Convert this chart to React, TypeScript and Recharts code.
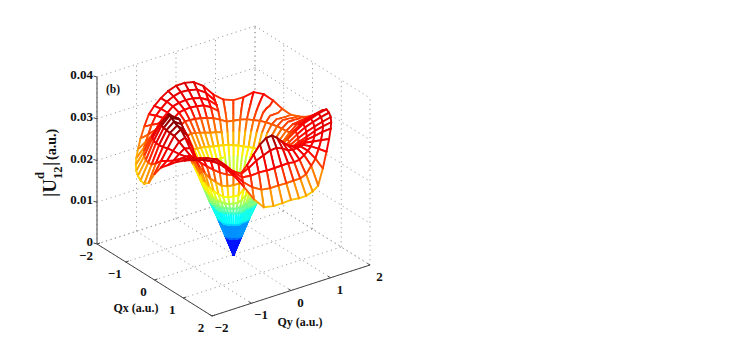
import React from "react";
import { ScatterChart, Scatter, XAxis, YAxis } from "recharts";

const qxTicks = [-2, -1, 0, 1, 2];
const qyTicks = [-2, -1, 0, 1, 2];
const zTicks = [0, 0.01, 0.02, 0.03, 0.04];
const zTickLabels = ["0", "0.01", "0.02", "0.03", "0.04"];
const qLabels = ["\u22122", "\u22121", "0", "1", "2"];

// radii of the mesh rings, and one row per angle (0, 6, 12 ... 354 degrees)
const ringRadii = [1 / 6, 2 / 6, 3 / 6, 4 / 6, 5 / 6, 1, 7 / 6, 8 / 6, 9 / 6, 10 / 6, 11 / 6, 2];
const zUnit = 0.0001;
const surfaceZ = [
  [46, 92, 133, 165, 205, 260, 320, 342, 320, 285, 250, 217],
  [46, 92, 133, 166, 205, 255, 310, 332, 313, 285, 250, 214],
  [46, 92, 133, 167, 205, 250, 296, 318, 303, 281, 248, 212],
  [46, 92, 133, 168, 206, 247, 285, 306, 298, 280, 250, 214],
  [46, 92, 133, 169, 207, 246, 274, 296, 295, 283, 262, 219],
  [46, 92, 133, 170, 208, 245, 265, 288, 292, 285, 270, 250],
  [46, 92, 133, 171, 209, 242, 263, 283, 288, 287, 284, 280],
  [46, 92, 133, 172, 210, 240, 261, 278, 285, 290, 295, 300],
  [46, 92, 133, 172, 210, 240, 258, 274, 284, 294, 305, 314],
  [46, 92, 133, 172, 210, 240, 255, 270, 283, 297, 308, 318],
  [46, 92, 133, 172, 210, 242, 256, 272, 286, 298, 309, 319],
  [46, 92, 133, 172, 210, 244, 257, 274, 289, 300, 310, 319],
  [46, 92, 133, 173, 210, 245, 258, 274, 289, 299, 309, 316],
  [46, 92, 133, 172, 205, 236, 250, 266, 280, 290, 298, 304],
  [46, 92, 133, 170, 200, 228, 240, 258, 273, 279, 282, 285],
  [46, 92, 133, 170, 200, 226, 238, 255, 266, 268, 270, 272],
  [46, 92, 133, 168, 197, 222, 238, 255, 265, 264, 262, 260],
  [46, 92, 133, 165, 193, 214, 238, 255, 263, 260, 256, 253],
  [46, 92, 133, 162, 190, 208, 240, 255, 260, 256, 252, 250],
  [46, 92, 134, 162, 190, 207, 238, 256, 264, 260, 256, 258],
  [46, 92, 136, 162, 190, 207, 236, 256, 268, 270, 268, 273],
  [46, 92, 137, 163, 190, 207, 235, 255, 266, 274, 280, 284],
  [46, 92, 138, 163, 190, 207, 235, 255, 265, 272, 280, 286],
  [46, 92, 137, 163, 191, 208, 233, 253, 262, 268, 271, 272],
  [46, 92, 136, 163, 191, 209, 231, 250, 258, 262, 263, 264],
  [46, 92, 135, 163, 192, 210, 230, 248, 256, 260, 263, 266],
  [46, 92, 135, 162, 190, 210, 232, 254, 266, 272, 274, 280],
  [46, 92, 135, 160, 188, 210, 234, 259, 277, 286, 295, 303],
  [46, 92, 135, 160, 186, 210, 235, 262, 284, 294, 306, 316],
  [46, 92, 135, 160, 187, 212, 238, 265, 286, 297, 309, 319],
  [46, 92, 135, 161, 189, 214, 241, 267, 287, 298, 310, 318],
  [46, 92, 135, 161, 190, 216, 245, 269, 287, 297, 306, 312],
  [46, 92, 135, 161, 191, 218, 248, 271, 286, 295, 300, 303],
  [46, 92, 135, 161, 191, 220, 248, 267, 280, 287, 291, 293],
  [46, 92, 135, 162, 192, 222, 252, 276, 280, 282, 283, 282],
  [46, 92, 135, 165, 195, 226, 258, 286, 284, 277, 270, 262],
  [46, 92, 135, 170, 200, 232, 266, 297, 287, 271, 256, 244],
  [46, 92, 135, 175, 207, 240, 276, 306, 292, 270, 249, 228],
  [46, 92, 134, 176, 212, 252, 295, 320, 302, 275, 246, 218],
  [46, 92, 134, 177, 218, 265, 312, 333, 312, 282, 245, 213],
  [46, 92, 133, 178, 224, 278, 328, 342, 320, 287, 245, 210],
  [46, 92, 133, 180, 229, 288, 338, 347, 325, 290, 245, 209],
  [46, 92, 133, 179, 230, 291, 342, 348, 327, 293, 249, 209],
  [46, 92, 133, 177, 227, 286, 336, 346, 329, 297, 254, 211],
  [46, 92, 133, 173, 221, 278, 328, 343, 330, 301, 266, 224],
  [46, 92, 133, 170, 215, 270, 320, 340, 330, 305, 280, 254],
  [46, 92, 133, 165, 205, 255, 302, 326, 322, 306, 288, 278],
  [46, 90, 128, 155, 190, 235, 280, 306, 312, 305, 296, 292],
  [46, 88, 125, 150, 180, 218, 258, 286, 300, 305, 307, 306],
  [46, 88, 125, 148, 175, 208, 248, 280, 297, 306, 312, 316],
  [46, 88, 125, 146, 170, 200, 238, 275, 298, 310, 317, 322],
  [46, 88, 125, 145, 168, 195, 232, 270, 298, 313, 322, 327],
  [46, 88, 125, 145, 165, 190, 225, 265, 296, 314, 323, 328],
  [46, 88, 125, 145, 165, 190, 225, 262, 288, 302, 310, 316],
  [46, 88, 125, 145, 166, 192, 228, 260, 278, 285, 290, 295],
  [46, 88, 125, 146, 168, 195, 232, 262, 272, 272, 270, 268],
  [46, 88, 125, 148, 175, 208, 250, 283, 285, 275, 256, 236],
  [46, 88, 126, 152, 185, 225, 270, 307, 300, 280, 248, 214],
  [46, 90, 128, 157, 195, 238, 289, 328, 310, 282, 248, 213],
  [46, 92, 133, 164, 202, 253, 310, 340, 318, 284, 250, 215],
];

// the back wall between these angle rows only shows a few of the rings
const sparseAngleRows = [15, 26];
const sparseRingsKept = [1, 2, 3, 4, 6, 8, 12];

// view of the 3D box on the page, the chart's x/y axes then place it
const project = (qx: number, qy: number, z: number) => ({
  u: 233.5 + qx * 28.75 + qy * 39.5,
  v: 254.5 + qx * 18 - qy * 12.75 - z * 4175,
});
const depthOf = (qx: number, qy: number, z: number) => 35.6 * qx - 25.2 * qy + 2113 * z;

const nAngles = surfaceZ.length;
const nRings = ringRadii.length;

const surfacePoints = [{ ...project(0, 0, 0), qx: 0, qy: 0, z: 0 }];
surfaceZ.forEach((row, j) => {
  const angle = (j * 2 * Math.PI) / nAngles;
  row.forEach((value, k) => {
    const qx = ringRadii[k] * Math.cos(angle);
    const qy = ringRadii[k] * Math.sin(angle);
    const z = value * zUnit;
    surfacePoints.push({ ...project(qx, qy, z), qx, qy, z });
  });
});

const pointIndex = (j: number, k: number) =>
  k === 0 ? 0 : 1 + ((j + nAngles) % nAngles) * nRings + (k - 1);

// mesh cells, far ones first so that near ones cover them
const cells: number[][] = [];
for (let j = 0; j < nAngles; j++) {
  for (let k = 0; k < nRings; k++) {
    cells.push(
      k === 0
        ? [pointIndex(j, 0), pointIndex(j, 1), pointIndex(j + 1, 1)]
        : [pointIndex(j, k), pointIndex(j, k + 1), pointIndex(j + 1, k + 1), pointIndex(j + 1, k)]
    );
  }
}
const cellDepth = (cell: number[]) =>
  cell.reduce((sum, i) => {
    const p = surfacePoints[i];
    return sum + depthOf(p.qx, p.qy, p.z);
  }, 0) / cell.length;
cells.sort((a, b) => cellDepth(a) - cellDepth(b));

const isHiddenRingEdge = (a: number, b: number) => {
  if (a === 0 || b === 0) return false;
  const ringA = ((a - 1) % nRings) + 1;
  const ringB = ((b - 1) % nRings) + 1;
  if (ringA !== ringB || sparseRingsKept.includes(ringA)) return false;
  const rowA = Math.floor((a - 1) / nRings);
  const rowB = Math.floor((b - 1) / nRings);
  return Math.min(rowA, rowB) >= sparseAngleRows[0] && Math.max(rowA, rowB) <= sparseAngleRows[1];
};

// jet colours; the dark end is kept for the very tops of the hills
const jetColor = (z: number) => {
  let t = 0.08 + 28 * z;
  if (z > 0.0285) t = 0.878 + (z - 0.0285) * 9;
  if (z > 0.032) t = 0.91 + (z - 0.032) * 36;
  t = Math.min(t, 1);
  const part = (c: number) =>
    Math.round(255 * Math.max(0, Math.min(1, 1.5 - Math.abs(4 * t - c))));
  return `rgb(${part(3)},${part(2)},${part(1)})`;
};

const renderMesh = (props: any) => {
  const pts = props.points;
  return (
    <g strokeLinecap="round" fill="none">
      {cells.map((cell, c) => (
        <g key={c}>
          <polygon
            points={cell.map((i) => `${pts[i].x},${pts[i].y}`).join(" ")}
            fill="#fff"
            stroke="none"
          />
          {cell.map((i, n) => {
            const next = cell[(n + 1) % cell.length];
            if (isHiddenRingEdge(i, next)) return null;
            return (
              <line
                key={n}
                x1={pts[i].x}
                y1={pts[i].y}
                x2={pts[next].x}
                y2={pts[next].y}
                stroke={jetColor((surfacePoints[i].z + surfacePoints[next].z) / 2)}
                strokeWidth={1.9}
              />
            );
          })}
        </g>
      ))}
    </g>
  );
};

const segment = (a: number[], b: number[]) => [
  project(a[0], a[1], a[2]),
  project(b[0], b[1], b[2]),
];

const gridLines = [
  ...zTicks.flatMap((z) => [segment([-2, -2, z], [-2, 2, z]), segment([-2, 2, z], [2, 2, z])]),
  ...qyTicks.flatMap((q) => [segment([-2, q, 0], [-2, q, 0.04]), segment([-2, q, 0], [2, q, 0])]),
  ...qxTicks.flatMap((q) => [segment([q, 2, 0], [q, 2, 0.04]), segment([q, -2, 0], [q, 2, 0])]),
];
const axisLines = [
  segment([-2, -2, 0], [-2, -2, 0.04]),
  segment([-2, -2, 0], [2, -2, 0]),
  segment([2, -2, 0], [2, 2, 0]),
];

const tickFont = {
  fontFamily: "Liberation Serif",
  fontWeight: 700,
  fill: "#111",
};

const makeTicks = (
  labels: string[],
  dx: number,
  dy: number,
  tx: number,
  ty: number,
  anchor: string
) =>
  function TickShape(props: any) {
    return (
      <g>
        <line
          x1={props.cx}
          y1={props.cy}
          x2={props.cx + tx}
          y2={props.cy + ty}
          stroke="#444"
          strokeWidth={1}
        />
        <text
          {...tickFont}
          x={props.cx + dx}
          y={props.cy + dy}
          fontSize={13}
          textAnchor={anchor as any}
          dominantBaseline="central"
        >
          {labels[props.index]}
        </text>
      </g>
    );
  };

const zTickData = zTicks.map((z) => project(-2, -2, z));
const qxTickData = qxTicks.map((q) => project(q, -2, 0));
const qyTickData = qyTicks.map((q) => project(2, q, 0));

const zTickShape = makeTicks(zTickLabels, -4, -2.5, -3.5, -1, "end");
const qxTickShape = makeTicks(qLabels, -11, 11.5, 3, -1, "middle");
const qyTickShape = makeTicks(qLabels, 9.5, 11.5, -2.5, -1.5, "middle");

const noMark = () => <g />;

const YLabel = () => {
  const piece = (text: string, x: number, y: number, size: number) => (
    <text
      {...tickFont}
      x={x}
      y={y}
      fontSize={size}
      transform={`rotate(-90 ${x} ${y})`}
    >
      {text}
    </text>
  );
  return (
    <g>
      {piece("|U", 56, 197, 19)}
      {piece("d", 44, 179, 12.5)}
      {piece("12", 62, 179, 12.5)}
      {piece("|", 56, 166, 19)}
      {piece("(a.u.)", 56, 160, 14)}
    </g>
  );
};

export default function App() {
  return (
    <div style={{ position: "absolute", left: 0, top: 0, background: "#fff" }}>
      <ScatterChart
        width={747}
        height={356}
        margin={{ top: 0, right: 0, bottom: 0, left: 0 }}
      >
        <XAxis type="number" dataKey="u" domain={[0, 747]} hide />
        <YAxis type="number" dataKey="v" domain={[0, 356]} reversed hide />
        {gridLines.map((points, i) => (
          <Scatter
            key={`grid-${i}`}
            data={points}
            shape={noMark}
            line={{ stroke: "#a0a0a0", strokeWidth: 1, strokeDasharray: "1.2 3.5" }}
            isAnimationActive={false}
          />
        ))}
        {axisLines.map((points, i) => (
          <Scatter
            key={`axis-${i}`}
            data={points}
            shape={noMark}
            line={{ stroke: "#444", strokeWidth: 1 }}
            isAnimationActive={false}
          />
        ))}
        <Scatter data={zTickData} shape={zTickShape} isAnimationActive={false} />
        <Scatter data={qxTickData} shape={qxTickShape} isAnimationActive={false} />
        <Scatter data={qyTickData} shape={qyTickShape} isAnimationActive={false} />
        <Scatter
          data={surfacePoints}
          shape={noMark}
          line={renderMesh}
          isAnimationActive={false}
        />
        <text {...tickFont} x={136} y={312} fontSize={12} textAnchor="middle">
          Qx (a.u.)
        </text>
        <text {...tickFont} x={300} y={326} fontSize={12} textAnchor="middle">
          Qy (a.u.)
        </text>
        <text {...tickFont} x={113} y={93} fontSize={11.5} textAnchor="middle">
          (b)
        </text>
        <YLabel />
      </ScatterChart>
    </div>
  );
}
